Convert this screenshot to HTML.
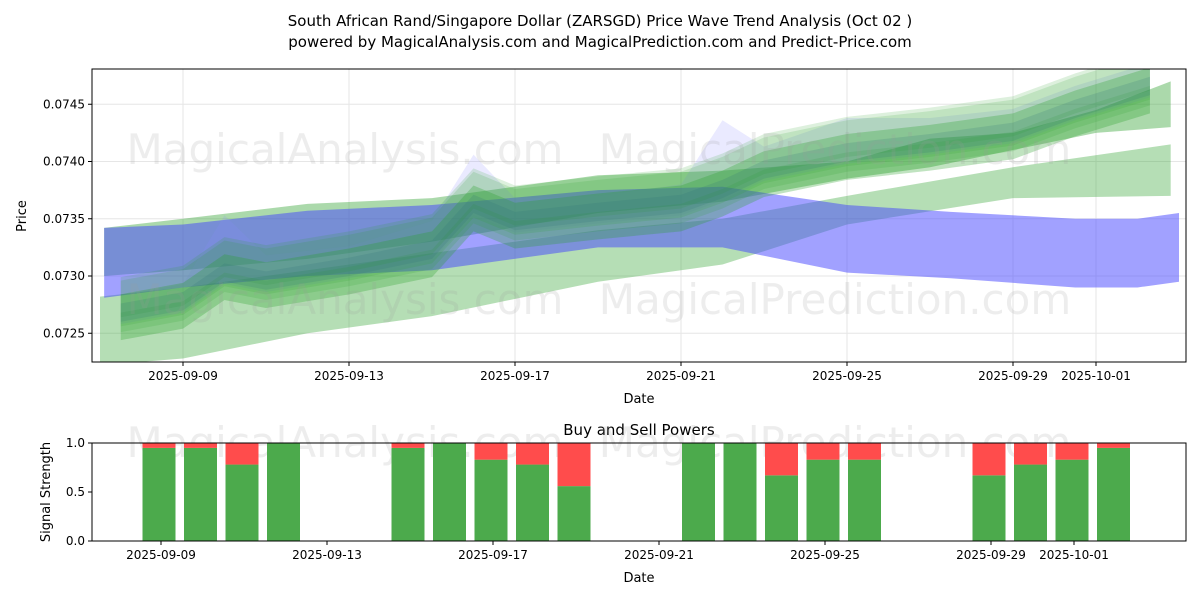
<!DOCTYPE html>
<html><head><meta charset="utf-8"><style>
body{margin:0;background:#fff;font-family:"Liberation Sans","DejaVu Sans",sans-serif}
svg text{font-family:"DejaVu Sans","Liberation Sans",sans-serif}
</style></head><body>
<svg id="c" width="1200" height="600" viewBox="0 0 1200 600" xmlns="http://www.w3.org/2000/svg">
<rect width="1200" height="600" fill="#fff"/>
<text x="600" y="26" text-anchor="middle" font-size="15">South African Rand/Singapore Dollar (ZARSGD) Price Wave Trend Analysis (Oct 02 )</text>
<text x="600" y="47" text-anchor="middle" font-size="15">powered by MagicalAnalysis.com and MagicalPrediction.com and Predict-Price.com</text>
<g id="topg"></g><g id="botg"></g>
</svg>
<script>
// ---- data ----
const topTicks=[0.0725,0.0730,0.0735,0.0740,0.0745];
const dateLabels=["2025-09-09","2025-09-13","2025-09-17","2025-09-21","2025-09-25","2025-09-29","2025-10-01"];
const dateOffsets=[0,4,8,12,16,20,22];
const bandDaysA=[-2,0,3,6,10,13,16,20,23.8];
const bandLoA=[0.07222,0.07228,0.07250,0.07265,0.07295,0.07310,0.07345,0.07368,0.07370];
const bandHiA=[0.07282,0.07290,0.07305,0.07320,0.07340,0.07350,0.07370,0.07395,0.07415];
const bandDaysB=[-1.9,0,3,6,10,13,16,18,20,22,23.8];
const bandLoB=[0.07300,0.07305,0.07315,0.07330,0.07355,0.07365,0.07385,0.07395,0.07410,0.07425,0.07430];
const bandHiB=[0.07342,0.07350,0.07363,0.07368,0.07388,0.07392,0.07400,0.07420,0.07425,0.07445,0.07470];
const blueDays=[-1.9,0,3,6,10,13,16,18.5,21.5,23,24];
const blueLo=[0.07281,0.07290,0.07300,0.07305,0.07325,0.07325,0.07303,0.07298,0.07290,0.07290,0.07295];
const blueHi=[0.07342,0.07345,0.07357,0.07362,0.07375,0.07378,0.07362,0.07356,0.07350,0.07350,0.07355];
const waveDays=[-1.5,0,1,2,4,6,7,8,10,12,13,14,16,18,20,21.5,23.3];
const waveMid=[0.07270,0.07280,0.07305,0.07298,0.07310,0.07325,0.07365,0.07350,0.07358,0.07365,0.07378,0.07395,0.07410,0.07418,0.07428,0.07448,0.07468];
const waveOffsets=[-0.00014,-0.00006,0,0.00005,0.00010];
const waveWidths=[0.00012,0.00020,0.00014,0.00024,0.00016];
const blueWave=[0.07275,0.07285,0.07345,0.07310,0.07318,0.07340,0.07398,0.07360,0.07362,0.07372,0.07428,0.07405,0.07430,0.07430,0.07438,0.07458,0.07478];
const barDays=[0,1,2,3,6,7,8,9,10,13,14,15,16,17,20,21,22,23];
const buyVals=[0.95,0.95,0.78,1.0,0.95,1.0,0.83,0.78,0.56,1.0,1.0,0.67,0.83,0.83,0.67,0.78,0.83,0.95];
const powTicks=[0.0,0.5,1.0];
// ---- axes ----
const NS="http://www.w3.org/2000/svg";
const L=92,R=1186,T=69,B=362;
const xT=d=>183+41.5*d;
const yT=v=>276-(v-0.0730)*114500;
const xB=d=>159+41.5*d;
const xBt=d=>161+41.5*d;
const BT=443,BB=541;
const yB=v=>BB-v*(BB-BT);
function mk(p,tag,a){const e=document.createElementNS(NS,tag);for(const k in a)e.setAttribute(k,a[k]);p.appendChild(e);return e;}
const topG=document.getElementById('topg'),botG=document.getElementById('botg');
dateOffsets.forEach(d=>{mk(topG,'line',{x1:xT(d),x2:xT(d),y1:T,y2:B,stroke:'#e6e6e6'});});
topTicks.forEach(v=>{mk(topG,'line',{x1:L,x2:R,y1:yT(v),y2:yT(v),stroke:'#e6e6e6'});});
const clip=mk(topG,'clipPath',{id:'cp'});mk(clip,'rect',{x:L,y:T,width:R-L,height:B-T});
const g=mk(topG,'g',{'clip-path':'url(#cp)'});
function bandG(days,lo,hi,fill,op,name){
 let pts=days.map((d,i)=>xT(d)+','+yT(hi[i]));
 pts=pts.concat(days.map((d,i)=>xT(d)+','+yT(lo[i])).reverse());
 const e=mk(g,'polygon',{points:pts.join(' '),fill:fill,'fill-opacity':op});
 
 
}
bandG(bandDaysA,bandLoA,bandHiA,'#2ca02c',0.35,'green-band-low');
bandG(bandDaysB,bandLoB,bandHiB,'#2ca02c',0.4,'green-band-high');
bandG(blueDays,blueLo,blueHi,'#4444ff',0.5,'blue-band');
bandG(waveDays,waveMid.map(v=>v-0.00012),blueWave.map(v=>v+0.00008),'#8888ff',0.18,'blue-wave');
waveOffsets.forEach((o,k)=>{
 bandG(waveDays,waveMid.map(v=>v+o-waveWidths[k]),waveMid.map(v=>v+o+waveWidths[k]),'#2ca02c',0.16,'green-wave');
});
bandG(waveDays,waveMid.map(v=>v-0.00010),waveMid.map(v=>v+0.00006),'#2a6e7a',0.18,'teal-wave');
[[345,150],[835,150],[345,300],[835,300]].forEach((p,i)=>{const t=mk(g,'text',{x:p[0],y:p[1]+14,'text-anchor':'middle','font-size':42,fill:'#999','fill-opacity':0.18});t.textContent=i%2?'MagicalPrediction.com':'MagicalAnalysis.com';});
mk(topG,'rect',{x:L,y:T,width:R-L,height:B-T,fill:'none',stroke:'#000'});
topTicks.forEach(v=>{mk(topG,'line',{x1:L-4,x2:L,y1:yT(v),y2:yT(v),stroke:'#000'});const t=mk(topG,'text',{x:L-7,y:yT(v)+4,'text-anchor':'end','font-size':12});t.textContent=v.toFixed(4);});
dateOffsets.forEach((d,i)=>{mk(topG,'line',{x1:xT(d),x2:xT(d),y1:B,y2:B+4,stroke:'#000'});const t=mk(topG,'text',{x:xT(d),y:B+18,'text-anchor':'middle','font-size':12});t.textContent=dateLabels[i];});
let t=mk(topG,'text',{x:639,y:403,'text-anchor':'middle','font-size':13});t.textContent='Date';
t=mk(topG,'text',{x:26,y:216,'text-anchor':'middle','font-size':13,transform:'rotate(-90 26 216)'});t.textContent='Price';
t=mk(botG,'text',{x:639,y:435,'text-anchor':'middle','font-size':15});t.textContent='Buy and Sell Powers';
[[345,443],[835,443]].forEach((p,i)=>{const w=mk(botG,'text',{x:p[0],y:p[1]+14,'text-anchor':'middle','font-size':42,fill:'#999','fill-opacity':0.18});w.textContent=i?'MagicalPrediction.com':'MagicalAnalysis.com';});
barDays.forEach((d,i)=>{
 const x=xB(d)-16.5,w=33;
 const b=mk(botG,'rect',{x:x,y:yB(buyVals[i]),width:w,height:BB-yB(buyVals[i]),fill:'#4caa4c'});
 
 
 const s=mk(botG,'rect',{x:x,y:BT,width:w,height:yB(buyVals[i])-BT,fill:'#ff4c4c'});
 
 
});
mk(botG,'rect',{x:L,y:BT,width:R-L,height:BB-BT,fill:'none',stroke:'#000'});
powTicks.forEach(v=>{mk(botG,'line',{x1:L-4,x2:L,y1:yB(v),y2:yB(v),stroke:'#000'});const q=mk(botG,'text',{x:L-7,y:yB(v)+4,'text-anchor':'end','font-size':12});q.textContent=v.toFixed(1);});
dateOffsets.forEach((d,i)=>{mk(botG,'line',{x1:xBt(d),x2:xBt(d),y1:BB,y2:BB+4,stroke:'#000'});const q=mk(botG,'text',{x:xBt(d),y:BB+18,'text-anchor':'middle','font-size':12});q.textContent=dateLabels[i];});
t=mk(botG,'text',{x:639,y:582,'text-anchor':'middle','font-size':13});t.textContent='Date';
t=mk(botG,'text',{x:50,y:492,'text-anchor':'middle','font-size':13,transform:'rotate(-90 50 492)'});t.textContent='Signal Strength';
</script>
</body></html>
